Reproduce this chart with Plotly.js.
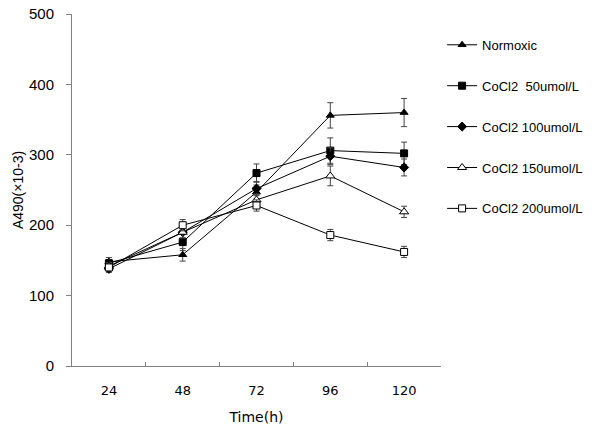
<!DOCTYPE html>
<html>
<head>
<meta charset="utf-8">
<script src="https://cdn.plot.ly/plotly-3.0.1.min.js"></script>
<style>html,body{margin:0;padding:0;background:#fff;}#chart{width:600px;height:435px;}</style>
</head>
<body>
<div id="chart"></div>
<script>
var timePoints = ['24', '48', '72', '96', '120'];
var seriesNames = ['Normoxic', 'CoCl2  50umol/L', 'CoCl2 100umol/L', 'CoCl2 150umol/L', 'CoCl2 200umol/L'];
var normoxic = [148, 158, 247, 356, 360];
var normoxicErr = [6, 9, 10, 18, 20];
var cocl50 = [146, 176, 274, 306, 302];
var cocl50Err = [5, 12, 13, 18, 16];
var cocl100 = [138, 190, 252, 298, 282];
var cocl100Err = [5, 8, 10, 12, 12];
var cocl150 = [142, 190, 236, 270, 219];
var cocl150Err = [5, 8, 8, 14, 8];
var cocl200 = [140, 200, 228, 186, 162];
var cocl200Err = [5, 8, 8, 8, 8];

var values = [normoxic, cocl50, cocl100, cocl150, cocl200];
var errs = [normoxicErr, cocl50Err, cocl100Err, cocl150Err, cocl200Err];
var symbols = ['triangle-up', 'square', 'diamond', 'triangle-up', 'square'];
var fills = ['#000000', '#000000', '#000000', '#ffffff', '#ffffff'];
var sizes = [7, 7, 7, 8, 7];

var traces = seriesNames.map(function (name, i) {
  return {
    type: 'scatter',
    mode: 'lines+markers',
    name: name,
    legendgroup: 'g' + i,
    x: timePoints,
    y: values[i],
    line: {color: '#000000', width: 1},
    marker: {symbol: symbols[i], size: sizes[i], color: fills[i], line: {color: '#000000', width: 1}},
    error_y: {type: 'data', array: errs[i], visible: true, color: '#444444', thickness: 1, width: 3},
    hoverinfo: 'skip'
  };
});

var layout = {
  width: 600,
  height: 435,
  margin: {l: 72, r: 148, t: 14, b: 69},
  paper_bgcolor: '#ffffff',
  plot_bgcolor: '#ffffff',
  showlegend: true,
  font: {family: 'Liberation Sans, Arial, sans-serif', color: '#000000'},
  xaxis: {
    type: 'category',
    categoryorder: 'array',
    categoryarray: timePoints,
    range: [-0.5, 4.5],
    showgrid: false,
    zeroline: false,
    showline: true,
    linecolor: '#808080',
    linewidth: 1,
    ticks: 'inside',
    tickson: 'boundaries',
    ticklen: 4,
    tickcolor: '#808080',
    ticklabelstandoff: 12,
    tickfont: {family: 'DejaVu Sans, sans-serif', size: 13, color: '#000000'},
    title: {text: 'Time(h)', font: {family: 'DejaVu Sans, sans-serif', size: 14, color: '#000000'}, standoff: 15}
  },
  yaxis: {
    range: [0, 500],
    dtick: 100,
    showgrid: false,
    zeroline: false,
    showline: true,
    linecolor: '#808080',
    linewidth: 1,
    ticks: 'outside',
    ticklen: 5,
    tickcolor: '#808080',
    ticklabelstandoff: 9,
    tickfont: {family: 'Liberation Sans, Arial, sans-serif', size: 15, color: '#000000'},
    title: {text: 'A490(×10-3)', font: {family: 'Liberation Sans, Arial, sans-serif', size: 14, color: '#000000'}, standoff: 2}
  },
  legend: {
    x: 1.003,
    xanchor: 'left',
    y: 0.955,
    yanchor: 'top',
    bgcolor: 'rgba(0,0,0,0)',
    font: {family: 'Liberation Sans, Arial, sans-serif', size: 13, color: '#000000'},
    tracegroupgap: 21,
    itemwidth: 30
  }
};

Plotly.newPlot('chart', traces, layout, {staticPlot: true, displayModeBar: false});
</script>
</body>
</html>
